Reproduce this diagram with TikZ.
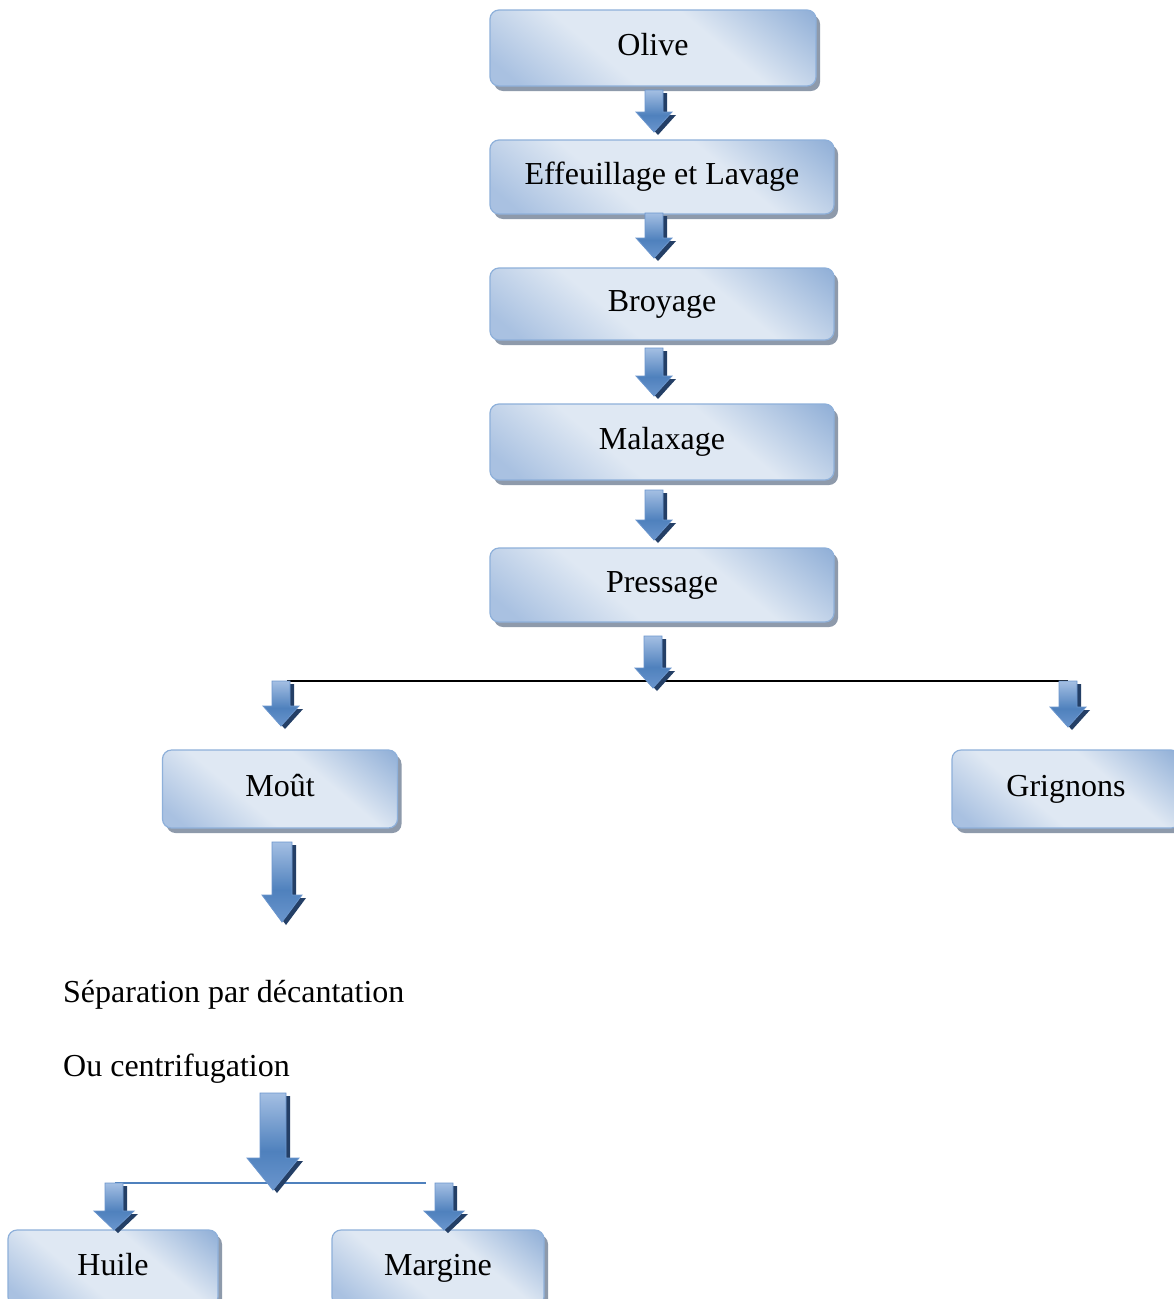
\documentclass[tikz,border=0pt]{standalone}
\usepackage{fontspec}
\setmainfont{Liberation Serif}
\usetikzlibrary{shadows}
\definecolor{boxA}{HTML}{DFE8F3}
\definecolor{boxB}{HTML}{93B1D8}
\definecolor{boxC}{HTML}{A9C1E1}
\definecolor{boxline}{HTML}{8EB0DA}
\definecolor{boxshadow}{HTML}{8E9AAB}
\definecolor{arrD}{HTML}{4F81BD}
\definecolor{arrM}{HTML}{6A95CD}
\definecolor{arrL}{HTML}{A4BFE3}
\definecolor{arrS}{HTML}{243F66}
\pgfdeclareverticalshading{boxsh}{100bp}{color(0bp)=(boxC); color(20bp)=(boxC); color(40bp)=(boxA); color(62bp)=(boxA); color(84bp)=(boxB); color(100bp)=(boxB)}
\pgfdeclareverticalshading{arrsh}{100bp}{color(0bp)=(arrM); color(25bp)=(arrM); color(45bp)=(arrD); color(75bp)=(arrL); color(100bp)=(arrL)}
\tikzset{
  stepbox/.style={draw=boxline, line width=1.2pt, rounded corners=9pt,
    shading=boxsh, shading angle=-40,
    drop shadow={shadow xshift=4pt, shadow yshift=-5pt, fill=boxshadow, opacity=1},
    font=\fontsize{32}{36}\selectfont, inner sep=0pt, text height=22pt, text depth=7pt},
  plaintext/.style={font=\fontsize{32}{36}\selectfont, inner sep=0pt, anchor=base west},
  arrbody/.style={draw=arrM, line width=0.8pt, shading=arrsh},
  arrshadow/.style={fill=arrS}
}
% x center, y top, y tip, shaft half width, head half width, head length
\newcommand{\arrpoly}[6]{(#1-#4,#2) -- (#1+#4,#2) -- (#1+#4,#3-#6) -- (#1+#5,#3-#6) -- (#1,#3) -- (#1-#5,#3-#6) -- (#1-#4,#3-#6) -- cycle}
\newcommand{\blockarr}[6]{%
  \fill[arrshadow, shift={(4,3)}] \arrpoly{#1}{#2}{#3}{#4}{#5}{#6};
  \path[arrbody] \arrpoly{#1}{#2}{#3}{#4}{#5}{#6};
}
\begin{document}
\begin{tikzpicture}[x=1pt,y=-1pt]
\useasboundingbox (0,0) rectangle (1174,1299);
\clip (0,0) rectangle (1174,1299);
\fill[white] (0,0) rectangle (1174,1299);

% boxes
\node[stepbox, minimum width=326pt, minimum height=76pt] (olive) at (653,48) {Olive};
\node[stepbox, minimum width=344pt, minimum height=74pt] (effeu) at (662,177) {Effeuillage et Lavage};
\node[stepbox, minimum width=344pt, minimum height=72pt] (broy) at (662,304) {Broyage};
\node[stepbox, minimum width=344pt, minimum height=76pt] (malax) at (662,442) {Malaxage};
\node[stepbox, minimum width=344pt, minimum height=74pt] (press) at (662,585) {Pressage};
\node[stepbox, minimum width=235pt, minimum height=78pt] (mout) at (280,789) {Moût};
\node[stepbox, minimum width=228pt, minimum height=78pt, text width=228pt, align=center] (grig) at (1066,789) {Grignons};
\node[stepbox, minimum width=210pt, minimum height=76pt] (huile) at (113,1268) {Huile};
\node[stepbox, minimum width=212pt, minimum height=76pt] (marg) at (438,1268) {Margine};

% texts
\node[plaintext] (sep) at (63,1002) {Séparation par décantation};
\node[plaintext] (ou) at (63,1076) {Ou centrifugation};

% chain arrows
\blockarr{654}{90}{132}{9}{18}{20}
\blockarr{654}{213}{258}{9}{18}{20}
\blockarr{654}{348}{396}{9}{18}{20}
\blockarr{654}{490}{540}{9}{18}{20}

% split after pressage
\coordinate (pl) at (287,681);
\coordinate (pr) at (1068,681);
\draw[black, line width=1.5pt] (pl) -- (pr);
\blockarr{653}{636}{688}{9}{18}{20}
\blockarr{281}{681}{726}{9}{18}{20}
\blockarr{1068}{681}{727}{9}{18}{20}

% mout arrow
\blockarr{282}{842}{922}{10}{20}{27}

% split after separation
\coordinate (sl) at (115,1183);
\coordinate (sr) at (426,1183);
\draw[arrD, line width=1.5pt] (sl) -- (sr);
\blockarr{273}{1093}{1190}{13}{26}{32}
\blockarr{114}{1183}{1230}{9}{20}{19}
\blockarr{444}{1183}{1230}{9}{20}{19}
\end{tikzpicture}
\end{document}
